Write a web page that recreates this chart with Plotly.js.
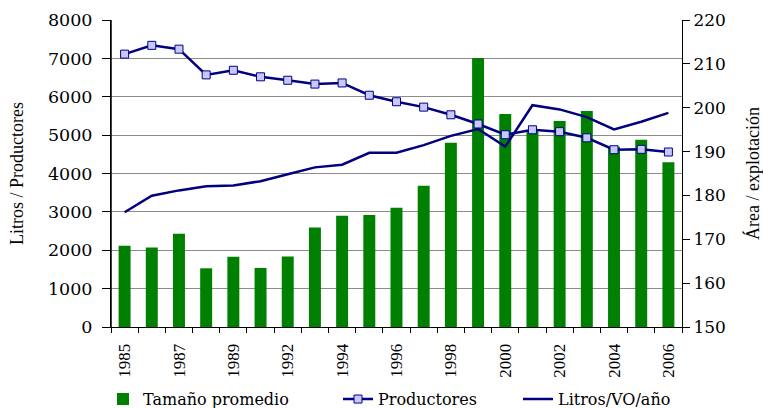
<!DOCTYPE html>
<html>
<head>
<meta charset="utf-8">
<script src="https://cdn.plot.ly/plotly-3.0.1.min.js"></script>
<style>html,body{margin:0;padding:0;background:#fff;}#chart{width:763px;height:408px;}</style>
</head>
<body>
<div id="chart"></div>
<script>
const years = ["1985","1986","1987","1988","1989","1991","1992","1993","1994","1995","1996","1997","1998","1999","2000","2001","2002","2003","2004","2005","2006"];
const tickLabels = ["1985","","1987","","1989","","1992","","1994","","1996","","1998","","2000","","2002","","2004","","2006"];
const tamanoPromedio = [2120,2070,2430,1530,1830,1540,1840,2590,2900,2920,3110,3680,4800,7010,5550,5100,5370,5630,4700,4880,4290];
const productores = [7110,7340,7240,6570,6690,6520,6430,6330,6360,6040,5870,5730,5530,5290,5010,5140,5090,4930,4620,4630,4560];
const litros = [2990,3420,3560,3670,3690,3800,3980,4160,4230,4540,4540,4740,4980,5160,4700,5780,5670,5470,5150,5350,5580];

const leftRange = [0,8000];
const rightRange = [150,220];

const serif = "'Liberation Serif', 'Times New Roman', serif";
const wideSerif = "'DejaVu Serif', serif";

// Tamaño promedio expressed in right-axis units (same scale), used only to anchor the right axis
const tamanoRight = tamanoPromedio.map(v => rightRange[0] + v * (rightRange[1]-rightRange[0]) / (leftRange[1]-leftRange[0]));

const traces = [
  {type:'bar', name:'Tamaño promedio', x:years, y:tamanoPromedio, legend:'legend',
   marker:{color:'#008000', line:{width:0}}},
  {type:'scatter', mode:'lines+markers', name:'Productores', x:years, y:productores, legend:'legend2',
   line:{color:'#000080', width:2.5},
   marker:{symbol:'square', size:8, color:'#c8c8ff', line:{color:'#000080', width:1}}},
  {type:'scatter', mode:'lines', name:'Litros/VO/año', x:years, y:litros, legend:'legend3',
   line:{color:'#000080', width:2.5}},
  {type:'scatter', mode:'none', x:years, y:tamanoRight, yaxis:'y2', showlegend:false, hoverinfo:'skip'}
];

const legFont = {family:wideSerif, size:16, color:'#000'};
const layout = {
  width:763, height:408,
  margin:{l:111, r:81, t:20, b:81, autoexpand:false},
  paper_bgcolor:'#fff', plot_bgcolor:'#fff',
  bargap:0.56,
  showlegend:true,
  legend:{orientation:'h', x:(103-111)/571, xanchor:'left', y:-0.235, yanchor:'middle', font:legFont, bgcolor:'rgba(0,0,0,0)'},
  legend2:{orientation:'h', x:(338-111)/571, xanchor:'left', y:-0.235, yanchor:'middle', font:legFont, bgcolor:'rgba(0,0,0,0)'},
  legend3:{orientation:'h', x:(518-111)/571, xanchor:'left', y:-0.235, yanchor:'middle', font:legFont, bgcolor:'rgba(0,0,0,0)'},
  xaxis:{type:'category', range:[-0.5, years.length-0.5], autorange:false,
         tickmode:'array', tickvals:years, ticktext:tickLabels,
         tickson:'boundaries', ticks:'outside', ticklen:5, tickcolor:'#000',
         tickangle:-90, ticklabelstandoff:9, automargin:false,
         tickfont:{family:serif, size:17, color:'#000'},
         showline:true, linecolor:'#000', linewidth:1, showgrid:false, zeroline:false},
  yaxis:{range:leftRange, dtick:1000, ticks:'outside', ticklen:8, tickcolor:'#000', automargin:false,
         ticklabelstandoff:6,
         tickfont:{family:wideSerif, size:17.5, color:'#000'},
         showline:true, linecolor:'#000', linewidth:1,
         showgrid:true, gridcolor:'#8c8c8c', gridwidth:1, zeroline:false,
         title:{text:'Litros / Productores', font:{family:serif, size:18, color:'#000'}, standoff:19}},
  yaxis2:{overlaying:'y', side:'right', anchor:'x', range:rightRange, dtick:10, automargin:false,
          ticks:'outside', ticklen:7, tickcolor:'#000',
          tickfont:{family:wideSerif, size:17, color:'#000'},
          showline:true, linecolor:'#000', linewidth:1, showgrid:false, zeroline:false,
          title:{text:'Área / explotación', font:{family:serif, size:18, color:'#000'}, standoff:22}},
  shapes:[{type:'line', xref:'paper', yref:'paper', x0:0, x1:0, y0:0, y1:1,
           line:{color:'#000000', width:1.5}, layer:'above'}]
};

Plotly.newPlot('chart', traces, layout, {staticPlot:true, displayModeBar:false});
</script>
</body>
</html>
